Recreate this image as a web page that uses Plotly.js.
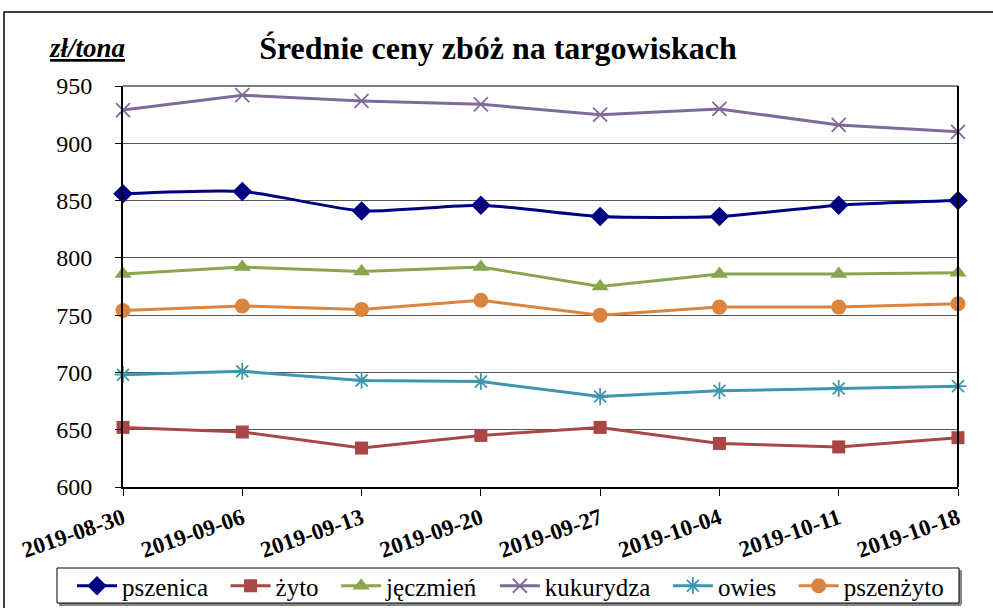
<!DOCTYPE html>
<html><head><meta charset="utf-8">
<script src="https://cdn.plot.ly/plotly-3.0.1.min.js"></script>
<style>
html,body{margin:0;padding:0;background:#fff}
#chart{width:993px;height:608px}
</style>
</head><body><div id="chart"></div>
<script>
const dates = ["2019-08-30","2019-09-06","2019-09-13","2019-09-20","2019-09-27","2019-10-04","2019-10-11","2019-10-18"];
const pszenica  = [856, 858, 841, 846, 836, 836, 846, 850];
const zyto      = [652, 648, 634, 645, 652, 638, 635, 643];
const jeczmien  = [786, 792, 788, 792, 775, 786, 786, 787];
const kukurydza = [929, 942, 937, 934, 925, 930, 916, 910];
const owies     = [698, 701, 693, 692, 679, 684, 686, 688];
const pszenzyto = [754, 758, 755, 763, 750, 757, 757, 760];
const seriesNames = ["pszenica","żyto","jęczmień","kukurydza","owies","pszenżyto"];
const yTicks = [600, 650, 700, 750, 800, 850, 900, 950];

const FONT = "Liberation Serif";
const PAD = "\u00a0\u00a0";
function tr(name, y, color, symbol, size, shape, lw) {
  return {
    type: "scatter", mode: "lines+markers", name: name + PAD, x: dates, y: y,
    line: {color: color, width: 3, shape: shape || "linear", smoothing: 0.6},
    marker: {color: color, symbol: symbol, size: size, line: {color: color, width: lw || 0}},
    cliponaxis: false
  };
}
const data = [
  tr(seriesNames[0], pszenica, "#000080", "diamond", 15, "spline"),
  tr(seriesNames[1], zyto, "#AA4643", "square", 13),
  tr(seriesNames[2], jeczmien, "#89A54E", "triangle-up", 15),
  tr(seriesNames[3], kukurydza, "#80699B", "x-thin-open", 14, null, 1.8),
  tr(seriesNames[4], owies, "#3D96AE", "asterisk-open", 14, null, 1.8),
  tr(seriesNames[5], pszenzyto, "#DB843D", "circle", 15)
];

const L = 123, R = 35, T = 86, B = 121, W = 993, H = 608;
const pw = W - L - R, ph = H - T - B;
const px = v => (v - L) / pw;
const py = v => (H - B - v) / ph;

const layout = {
  width: W, height: H,
  margin: {l: L, r: R, t: T, b: B, pad: 0, autoexpand: false},
  paper_bgcolor: "#fff", plot_bgcolor: "#fff",
  showlegend: true,
  font: {family: FONT, color: "#000"},
  title: {text: "<b>Średnie ceny zbóż na targowiskach</b>", font: {family: FONT, size: 32, color: "#000"},
          x: px(498), xref: "paper", xanchor: "center", y: 1 - 48/H, yanchor: "middle"},
  xaxis: {
    type: "category", range: [0, 7], showgrid: false, zeroline: false,
    showline: true, linecolor: "#000", linewidth: 2, mirror: false,
    ticks: "outside", ticklen: 7, tickcolor: "#000", tickwidth: 1,
    tickangle: -19, tickfont: {family: FONT, size: 23, color: "#000", weight: "bold"},
    tickvals: dates, ticktext: dates, fixedrange: true, automargin: false
  },
  yaxis: {
    range: [600, 950], tickvals: yTicks, showgrid: true, gridcolor: "#555", gridwidth: 1,
    zeroline: false, showline: true, linecolor: "#000", linewidth: 2,
    ticks: "outside", ticklen: 6, tickcolor: "#000", tickwidth: 1, ticklabelstandoff: 18,
    tickfont: {family: FONT, size: 24, color: "#000"}, fixedrange: true, automargin: false
  },
  legend: {
    orientation: "h", x: px(72), xanchor: "left", y: py(586), yanchor: "middle",
    borderwidth: 0, bgcolor: "rgba(0,0,0,0)",
    font: {family: FONT, size: 25, color: "#000"},
    itemwidth: 40, tracegroupgap: 0
  },
  shapes: [
    {type: "rect", xref: "paper", yref: "paper", x0: px(4), x1: px(1100), y0: py(700), y1: py(12),
     line: {color: "#000", width: 1.5}, fillcolor: "rgba(0,0,0,0)", layer: "below"},
    {type: "line", xref: "paper", yref: "paper", x0: 1, x1: 1, y0: 0, y1: 1, line: {color: "#000", width: 2}},
    {type: "line", xref: "paper", yref: "paper", x0: 0, x1: 1, y0: 1, y1: 1, line: {color: "#000", width: 1}},
    {type: "line", xref: "paper", yref: "paper", x0: px(59), x1: px(961), y0: py(604.5), y1: py(604.5), line: {color: "#888", width: 3}},
    {type: "line", xref: "paper", yref: "paper", x0: px(960.5), x1: px(960.5), y0: py(570), y1: py(604.5), line: {color: "#888", width: 3}},
    {type: "rect", xref: "paper", yref: "paper", x0: px(57), x1: px(959), y0: py(603), y1: py(568),
     line: {color: "#000", width: 1}, fillcolor: "rgba(0,0,0,0)"}
  ],
  annotations: [
    {text: "<b><i><u>zł/tona</u></i></b>", xref: "paper", yref: "paper", x: px(47), xanchor: "left",
     y: py(48), yanchor: "middle", showarrow: false, font: {family: FONT, size: 27, color: "#000"}}
  ]
};
Plotly.newPlot("chart", data, layout, {displayModeBar: false, staticPlot: true});
</script></body></html>
